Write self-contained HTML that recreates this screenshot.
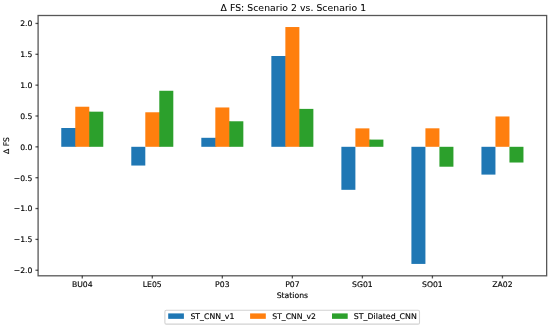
<!DOCTYPE html>
<html><head><meta charset="utf-8"><title>Δ FS: Scenario 2 vs. Scenario 1</title>
<style>
html,body{margin:0;padding:0;background:#fff;}
body{width:550px;height:328px;overflow:hidden;}
svg{display:block;}
text{font-family:"DejaVu Sans","Liberation Sans",sans-serif;fill:#000;stroke:#000;stroke-width:0.06px;}
.t{font-size:7.7px;stroke-width:0.14px;}
.title{font-size:9.28px;}
</style></head><body>
<svg width="550" height="328" viewBox="0 0 550 328">
<rect x="0" y="0" width="550" height="328" fill="#fff"/>

<rect x="61.26" y="128.00" width="14.01" height="18.80" fill="#1f77b4"/>
<rect x="75.07" y="128.00" width="1.2" height="18.80" fill="#1f77b4"/>
<rect x="75.27" y="106.73" width="14.01" height="40.07" fill="#ff7f0e"/>
<rect x="89.07" y="111.67" width="1.2" height="35.13" fill="#ff7f0e"/>
<rect x="89.27" y="111.67" width="14.01" height="35.13" fill="#2ca02c"/>
<rect x="131.29" y="146.80" width="14.01" height="18.74" fill="#1f77b4"/>
<rect x="145.30" y="112.28" width="14.01" height="34.52" fill="#ff7f0e"/>
<rect x="159.10" y="112.28" width="1.2" height="34.52" fill="#ff7f0e"/>
<rect x="159.30" y="90.77" width="14.01" height="56.03" fill="#2ca02c"/>
<rect x="201.32" y="137.80" width="14.01" height="9.00" fill="#1f77b4"/>
<rect x="215.13" y="137.80" width="1.2" height="9.00" fill="#1f77b4"/>
<rect x="215.33" y="107.47" width="14.01" height="39.33" fill="#ff7f0e"/>
<rect x="229.13" y="121.28" width="1.2" height="25.52" fill="#ff7f0e"/>
<rect x="229.33" y="121.28" width="14.01" height="25.52" fill="#2ca02c"/>
<rect x="271.35" y="56.00" width="14.01" height="90.80" fill="#1f77b4"/>
<rect x="285.16" y="56.00" width="1.2" height="90.80" fill="#1f77b4"/>
<rect x="285.36" y="27.03" width="14.01" height="119.77" fill="#ff7f0e"/>
<rect x="299.16" y="108.89" width="1.2" height="37.91" fill="#ff7f0e"/>
<rect x="299.36" y="108.89" width="14.01" height="37.91" fill="#2ca02c"/>
<rect x="341.38" y="146.80" width="14.01" height="43.02" fill="#1f77b4"/>
<rect x="355.39" y="128.37" width="14.01" height="18.43" fill="#ff7f0e"/>
<rect x="369.19" y="139.59" width="1.2" height="7.21" fill="#ff7f0e"/>
<rect x="369.39" y="139.59" width="14.01" height="7.21" fill="#2ca02c"/>
<rect x="411.41" y="146.80" width="14.01" height="117.12" fill="#1f77b4"/>
<rect x="425.42" y="128.31" width="14.01" height="18.49" fill="#ff7f0e"/>
<rect x="439.42" y="146.80" width="14.01" height="19.91" fill="#2ca02c"/>
<rect x="481.44" y="146.80" width="14.01" height="27.80" fill="#1f77b4"/>
<rect x="495.45" y="116.47" width="14.01" height="30.33" fill="#ff7f0e"/>
<rect x="509.45" y="146.80" width="14.01" height="15.72" fill="#2ca02c"/>
<rect x="38.1" y="15.5" width="508.55" height="260.30" fill="none" stroke="#000" stroke-opacity="0.66" stroke-width="1.3"/>
<line x1="35.45" y1="270.25" x2="38.1" y2="270.25" stroke="#000" stroke-opacity="0.66" stroke-width="1.3"/>
<text class="t" x="32.40" y="273.15" text-anchor="end">−2.0</text>
<line x1="35.45" y1="239.40" x2="38.1" y2="239.40" stroke="#000" stroke-opacity="0.66" stroke-width="1.3"/>
<text class="t" x="32.40" y="242.30" text-anchor="end">−1.5</text>
<line x1="35.45" y1="208.55" x2="38.1" y2="208.55" stroke="#000" stroke-opacity="0.66" stroke-width="1.3"/>
<text class="t" x="32.40" y="211.45" text-anchor="end">−1.0</text>
<line x1="35.45" y1="177.70" x2="38.1" y2="177.70" stroke="#000" stroke-opacity="0.66" stroke-width="1.3"/>
<text class="t" x="32.40" y="180.60" text-anchor="end">−0.5</text>
<line x1="35.45" y1="146.85" x2="38.1" y2="146.85" stroke="#000" stroke-opacity="0.66" stroke-width="1.3"/>
<text class="t" x="32.40" y="149.75" text-anchor="end">0.0</text>
<line x1="35.45" y1="116.00" x2="38.1" y2="116.00" stroke="#000" stroke-opacity="0.66" stroke-width="1.3"/>
<text class="t" x="32.40" y="118.90" text-anchor="end">0.5</text>
<line x1="35.45" y1="85.15" x2="38.1" y2="85.15" stroke="#000" stroke-opacity="0.66" stroke-width="1.3"/>
<text class="t" x="32.40" y="88.05" text-anchor="end">1.0</text>
<line x1="35.45" y1="54.30" x2="38.1" y2="54.30" stroke="#000" stroke-opacity="0.66" stroke-width="1.3"/>
<text class="t" x="32.40" y="57.20" text-anchor="end">1.5</text>
<line x1="35.45" y1="23.45" x2="38.1" y2="23.45" stroke="#000" stroke-opacity="0.66" stroke-width="1.3"/>
<text class="t" x="32.40" y="26.35" text-anchor="end">2.0</text>
<line x1="82.27" y1="275.8" x2="82.27" y2="278.45" stroke="#000" stroke-opacity="0.66" stroke-width="1.3"/>
<text class="t" x="82.27" y="286.9" text-anchor="middle">BU04</text>
<line x1="152.30" y1="275.8" x2="152.30" y2="278.45" stroke="#000" stroke-opacity="0.66" stroke-width="1.3"/>
<text class="t" x="152.30" y="286.9" text-anchor="middle">LE05</text>
<line x1="222.33" y1="275.8" x2="222.33" y2="278.45" stroke="#000" stroke-opacity="0.66" stroke-width="1.3"/>
<text class="t" x="222.33" y="286.9" text-anchor="middle">P03</text>
<line x1="292.36" y1="275.8" x2="292.36" y2="278.45" stroke="#000" stroke-opacity="0.66" stroke-width="1.3"/>
<text class="t" x="292.36" y="286.9" text-anchor="middle">P07</text>
<line x1="362.39" y1="275.8" x2="362.39" y2="278.45" stroke="#000" stroke-opacity="0.66" stroke-width="1.3"/>
<text class="t" x="362.39" y="286.9" text-anchor="middle">SG01</text>
<line x1="432.42" y1="275.8" x2="432.42" y2="278.45" stroke="#000" stroke-opacity="0.66" stroke-width="1.3"/>
<text class="t" x="432.42" y="286.9" text-anchor="middle">SO01</text>
<line x1="502.45" y1="275.8" x2="502.45" y2="278.45" stroke="#000" stroke-opacity="0.66" stroke-width="1.3"/>
<text class="t" x="502.45" y="286.9" text-anchor="middle">ZA02</text>
<text class="t" x="292.38" y="297.6" text-anchor="middle">Stations</text>
<text class="t" transform="translate(9.1,145.5) rotate(-90)" text-anchor="middle">Δ FS</text>
<text class="title" x="220.5" y="10.95" textLength="145.6" lengthAdjust="spacing">Δ FS: Scenario 2 vs. Scenario 1</text>
<rect x="164.9" y="310.25" width="254.6" height="13.85" rx="1.4" ry="1.4" fill="#fff" stroke="#d2d2d2" stroke-width="1.1"/>
<rect x="168.2" y="313.4" width="15.7" height="5.45" fill="#1f77b4"/>
<text class="t" style="font-size:7.76px" x="190.45" y="319.0">ST_CNN_v1</text>
<rect x="250.1" y="313.4" width="15.7" height="5.45" fill="#ff7f0e"/>
<text class="t" style="font-size:7.7px" x="272.30" y="319.0">ST_CNN_v2</text>
<rect x="332.0" y="313.4" width="15.7" height="5.45" fill="#2ca02c"/>
<text class="t" style="font-size:7.85px" x="353.85" y="319.0">ST_Dilated_CNN</text>
</svg></body></html>
